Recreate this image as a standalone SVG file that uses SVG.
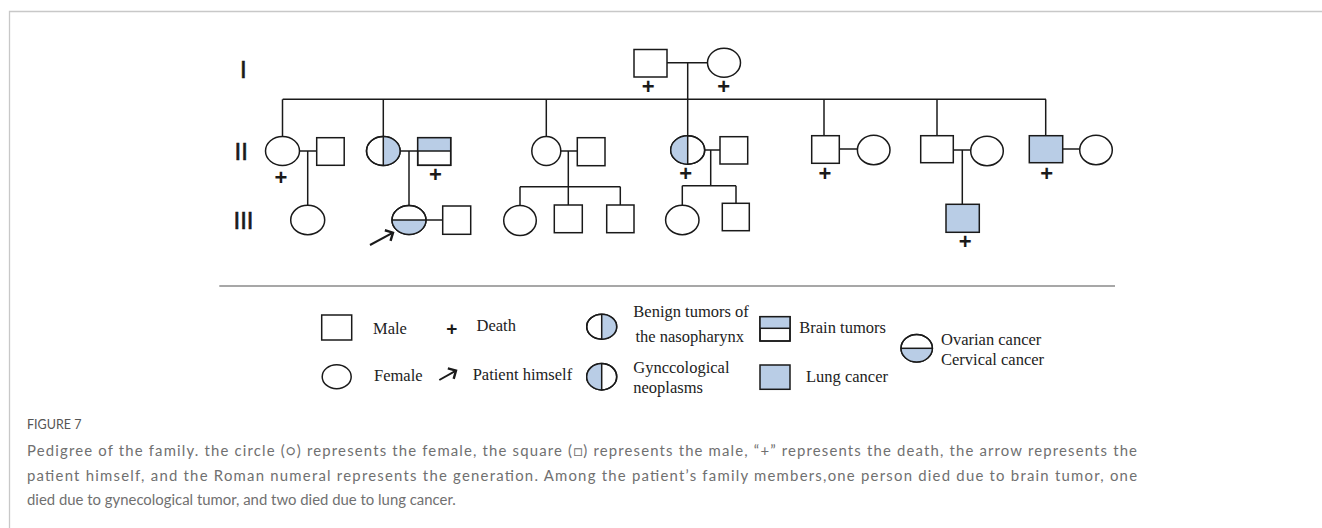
<svg xmlns="http://www.w3.org/2000/svg" width="1322" height="528" viewBox="0 0 1322 528">
<defs>
<style>
.sh{fill:#fff;stroke:#1a1a1a;stroke-width:1.5}
.no{fill:none;stroke:#1a1a1a;stroke-width:1.5}
.bl{fill:#b9cde6;stroke:none}
.blf{fill:#b9cde6;stroke:#1a1a1a;stroke-width:1.5}
.ln{stroke:#1a1a1a;stroke-width:1.5;fill:none}
.gen{font-family:"Liberation Sans",Arial,sans-serif;font-size:24px;fill:#1a1a1a;stroke:#1a1a1a;stroke-width:0.6}
.plus{font-family:"Liberation Sans",Arial,sans-serif;font-size:22px;font-weight:bold;fill:#1a1a1a;text-anchor:middle}
.lg{font-family:"Liberation Serif","Times New Roman",serif;font-size:16.5px;fill:#222}
.cap{font-family:Lato,"Open Sans",sans-serif;font-size:14.9px;fill:#707070}
.fig{font-family:Lato,"Open Sans",sans-serif;font-size:12.5px;fill:#555}
.arr{stroke:#1a1a1a;stroke-width:2;fill:none;marker-end:url(#ah)}
</style>
<marker id="ah" markerUnits="userSpaceOnUse" viewBox="-8 -8 10 16" refX="0" refY="0" markerWidth="10" markerHeight="16" orient="auto" overflow="visible">
<path d="M-6,-6 L0,0 L-6,6" fill="none" stroke="#1a1a1a" stroke-width="2.4"/>
</marker>
</defs>

<!-- frame -->
<g id="frame" stroke="#c8c8c8" stroke-width="1.3" fill="none">
<path d="M9.5,528 V11.5 H1322"/>
</g>

<!-- generation labels -->
<g id="generations">
<text class="gen" x="240" y="78">I</text>
<text class="gen" x="234.5" y="160">II</text>
<text class="gen" x="233.5" y="229">III</text>
</g>

<!-- connectors -->
<g id="connectors" class="ln">
<path d="M667,62.7 H707.5"/>
<path d="M687.7,62.7 V99.3"/>
<path d="M282.7,99.3 H1046"/>
<path d="M282.5,99.3 V136.5"/>
<path d="M383.3,99.3 V136.5"/>
<path d="M546.3,99.3 V136.5"/>
<path d="M687.7,99.3 V135.8"/>
<path d="M824,99.3 V135.7"/>
<path d="M937,99.3 V135.7"/>
<path d="M1045.7,99.3 V135.7"/>
<path d="M299.5,151 H316.7"/>
<path d="M307.7,151 V205.3"/>
<path d="M400,151 H417.7"/>
<path d="M409,151 V205.5"/>
<path d="M426,220 H442.7"/>
<path d="M560.8,151 H577.3"/>
<path d="M568.3,151 V186.7"/>
<path d="M520,186.7 H620.3"/>
<path d="M520,186.7 V205.5"/>
<path d="M568.3,186.7 V205"/>
<path d="M620.3,186.7 V205"/>
<path d="M704.7,150 H720"/>
<path d="M710.7,150 V185.7"/>
<path d="M682.3,185.7 H736"/>
<path d="M682.3,185.7 V205.3"/>
<path d="M736,185.7 V203.3"/>
<path d="M839.3,149 H857.4"/>
<path d="M953.3,150 H970.7"/>
<path d="M962.3,150 V204.3"/>
<path d="M1062.7,149 H1079.7"/>
</g>

<!-- Generation I -->
<g id="I-1"><rect class="sh" x="634" y="49.5" width="33" height="27.5"/><text class="plus" x="648.3" y="94.4">+</text></g>
<g id="I-2"><ellipse class="sh" cx="724" cy="62.7" rx="16.5" ry="14.5"/><text class="plus" x="723.7" y="94.4">+</text></g>

<!-- Generation II -->
<g id="II-1"><ellipse class="sh" cx="282.5" cy="151" rx="17" ry="14.5"/><text class="plus" x="281" y="185.4">+</text></g>
<g id="II-1s"><rect class="sh" x="316.7" y="137.7" width="27.5" height="27.6"/></g>

<g id="II-2">
<ellipse class="sh" cx="383.3" cy="151" rx="16.8" ry="14.5"/>
<path class="bl" d="M383.3,136.5 A16.8,14.5 0 0 1 383.3,165.5 Z"/>
<ellipse class="no" cx="383.3" cy="151" rx="16.8" ry="14.5"/>
<path class="ln" d="M383.3,136.5 V165.5"/>
</g>
<g id="II-2s">
<rect class="sh" x="417.7" y="137.7" width="33" height="27.6"/>
<rect class="bl" x="417.7" y="137.7" width="33" height="13.3"/>
<rect class="no" x="417.7" y="137.7" width="33" height="27.6"/>
<path class="ln" d="M417.7,151 H450.7"/>
<text class="plus" x="435.5" y="181.9">+</text>
</g>

<g id="II-3"><ellipse class="sh" cx="546.3" cy="151" rx="14.5" ry="14.5"/></g>
<g id="II-3s"><rect class="sh" x="577.3" y="137.7" width="27.7" height="28"/></g>

<g id="II-4">
<ellipse class="sh" cx="687.7" cy="150" rx="17" ry="14.2"/>
<path class="bl" d="M687.7,135.8 A17,14.2 0 0 0 687.7,164.2 Z"/>
<ellipse class="no" cx="687.7" cy="150" rx="17" ry="14.2"/>
<path class="ln" d="M687.7,135.8 V164.2"/>
<text class="plus" x="685.7" y="181">+</text>
</g>
<g id="II-4s"><rect class="sh" x="720" y="136.7" width="27.7" height="27.3"/></g>

<g id="II-5"><rect class="sh" x="811.7" y="135.7" width="27.6" height="27.6"/><text class="plus" x="825" y="181">+</text></g>
<g id="II-5s"><ellipse class="sh" cx="873.7" cy="150" rx="16.3" ry="14.7"/></g>

<g id="II-6"><rect class="sh" x="920.7" y="135.7" width="32.6" height="27"/></g>
<g id="II-6s"><ellipse class="sh" cx="987" cy="151" rx="16.3" ry="14.7"/></g>

<g id="II-7"><rect class="blf" x="1029.3" y="135.7" width="33.4" height="27"/><text class="plus" x="1046.7" y="181">+</text></g>
<g id="II-7s"><ellipse class="sh" cx="1096" cy="150" rx="16.3" ry="14.7"/></g>

<!-- Generation III -->
<g id="III-1"><ellipse class="sh" cx="307.7" cy="220" rx="17" ry="14.7"/></g>

<g id="III-2">
<ellipse class="sh" cx="409" cy="220" rx="17" ry="14.5"/>
<path class="bl" d="M392,220 A17,14.5 0 0 0 426,220 Z"/>
<ellipse class="no" cx="409" cy="220" rx="17" ry="14.5"/>
<path class="ln" d="M392,220 H426"/>
<path class="arr" d="M370,245 L393,232.7"/>
</g>
<g id="III-2s"><rect class="sh" x="442.7" y="206" width="28" height="28.3"/></g>

<g id="III-3"><ellipse class="sh" cx="520" cy="220.5" rx="16.3" ry="15"/></g>
<g id="III-4"><rect class="sh" x="554.3" y="205" width="28" height="27.7"/></g>
<g id="III-5"><rect class="sh" x="606.7" y="205" width="27.3" height="27.7"/></g>
<g id="III-6"><ellipse class="sh" cx="682.3" cy="220" rx="16.7" ry="14.7"/></g>
<g id="III-7"><rect class="sh" x="722.3" y="203.3" width="27" height="27.4"/></g>
<g id="III-8"><rect class="blf" x="946" y="204.3" width="33.3" height="28"/><text class="plus" x="965.3" y="249.4">+</text></g>

<!-- separator -->
<path d="M219.3,286 H1115" stroke="#8a8a8a" stroke-width="1.6" fill="none"/>

<!-- legend -->
<g id="legend">
<g id="lg-male"><rect class="sh" x="321.7" y="315" width="30" height="25"/><text class="lg" x="373" y="334">Male</text></g>
<g id="lg-death"><text class="plus" x="451.7" y="334.5" style="font-size:19px">+</text><text class="lg" x="476.5" y="330.7">Death</text></g>
<g id="lg-benign">
<ellipse class="sh" cx="601.7" cy="326.7" rx="15" ry="12.5"/>
<path class="bl" d="M601.7,314.2 A15,12.5 0 0 1 601.7,339.2 Z"/>
<ellipse class="no" cx="601.7" cy="326.7" rx="15" ry="12.5"/>
<path class="ln" d="M601.7,314.2 V339.2"/>
<text class="lg" x="633.3" y="317">Benign tumors of</text>
<text class="lg" x="635.5" y="342">the nasopharynx</text>
</g>
<g id="lg-brain">
<rect class="sh" x="760" y="316.7" width="30" height="24.3"/>
<rect class="bl" x="760" y="316.7" width="30" height="11.6"/>
<rect class="no" x="760" y="316.7" width="30" height="24.3"/>
<path class="ln" d="M760,328.3 H790"/>
<text class="lg" x="799.3" y="333.3">Brain tumors</text>
</g>
<g id="lg-ovarian">
<ellipse class="sh" cx="916.7" cy="348.3" rx="15.7" ry="13.8"/>
<path class="bl" d="M901,348.3 A15.7,13.8 0 0 0 932.4,348.3 Z"/>
<ellipse class="no" cx="916.7" cy="348.3" rx="15.7" ry="13.8"/>
<path class="ln" d="M901,348.3 H932.4"/>
<text class="lg" x="941" y="345">Ovarian cancer</text>
<text class="lg" x="941" y="364.5">Cervical cancer</text>
</g>
<g id="lg-female"><ellipse class="sh" cx="336.7" cy="376.7" rx="14.5" ry="12"/><text class="lg" x="374" y="381">Female</text></g>
<g id="lg-patient"><path class="arr" d="M439.3,380 L456,370.7"/><text class="lg" x="472.7" y="379.5">Patient himself</text></g>
<g id="lg-gyn">
<ellipse class="sh" cx="601.7" cy="376.7" rx="15" ry="13.2"/>
<path class="bl" d="M601.7,363.5 A15,13.2 0 0 0 601.7,389.9 Z"/>
<ellipse class="no" cx="601.7" cy="376.7" rx="15" ry="13.2"/>
<path class="ln" d="M601.7,363.5 V389.9"/>
<text class="lg" x="633.3" y="372.5">Gynccological</text>
<text class="lg" x="633.3" y="392.5">neoplasms</text>
</g>
<g id="lg-lung"><rect class="blf" x="760" y="365" width="30" height="24.3"/><text class="lg" x="806" y="381.5">Lung cancer</text></g>
</g>

<!-- caption -->
<g id="caption">
<text class="fig" x="27" y="429.3">FIGURE 7</text>
<text class="cap" x="27" y="456" textLength="1110" lengthAdjust="spacing">Pedigree of the family. the circle (○) represents the female, the square (□) represents the male, “+” represents the death, the arrow represents the</text>
<text class="cap" x="27" y="480.5" textLength="1110" lengthAdjust="spacing">patient himself, and the Roman numeral represents the generation. Among the patient’s family members,one person died due to brain tumor, one</text>
<text class="cap" x="27" y="505">died due to gynecological tumor, and two died due to lung cancer.</text>
</g>
</svg>
